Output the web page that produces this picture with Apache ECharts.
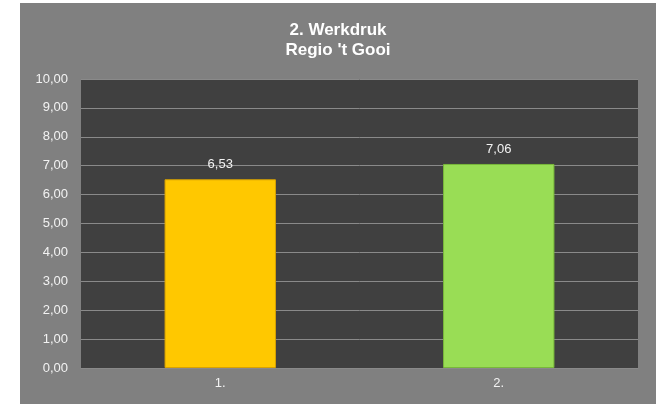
<!DOCTYPE html>
<html>
<head>
<meta charset="utf-8">
<script src="https://cdn.jsdelivr.net/npm/echarts@6/dist/echarts.min.js"></script>
<style>
  html, body { margin: 0; padding: 0; background: #fff; }
  #chart { position: absolute; left: 20px; top: 3px; width: 636px; height: 401px; }
</style>
</head>
<body>
<div id="chart"></div>
<script>
var categories = ['1.', '2.'];
var values = [6.53, 7.06];
var barColors = ['#ffc800', '#99dd55'];
var barBorders = ['#d9a200', '#78b83a'];

var myChart = echarts.init(document.getElementById('chart'));

function fmt(v) {
    return v.toFixed(2).replace('.', ',');
}

var option = {
    backgroundColor: '#808080',
    animation: false,
    title: {
        text: '2. Werkdruk\nRegio \'t Gooi',
        left: 'center',
        top: 12,
        textStyle: {
            color: '#ffffff',
            fontFamily: 'Liberation Sans',
            fontWeight: 'bold',
            fontSize: 17,
            lineHeight: 20
        }
    },
    grid: {
        left: 61,
        right: 18,
        top: 76,
        bottom: 36,
        show: true,
        backgroundColor: '#404040',
        borderWidth: 0
    },
    xAxis: {
        type: 'category',
        data: categories,
        axisLine: { show: true, lineStyle: { color: '#8a8a8a' } },
        axisTick: { show: false },
        axisLabel: {
            color: '#f2f2f2',
            fontFamily: 'Liberation Sans',
            fontSize: 13,
            margin: 9
        }
    },
    yAxis: {
        type: 'value',
        min: 0,
        max: 10,
        interval: 1,
        axisLine: { show: false },
        axisTick: { show: false },
        splitLine: { lineStyle: { color: '#8a8a8a', width: 1 } },
        axisLabel: {
            color: '#f2f2f2',
            fontFamily: 'Liberation Sans',
            fontSize: 13,
            margin: 13,
            formatter: function (v) { return fmt(v); }
        }
    },
    series: [
        {
            type: 'bar',
            barWidth: '40%',
            data: values.map(function (v, i) {
                return {
                    value: v,
                    itemStyle: {
                        color: barColors[i],
                        borderColor: barBorders[i],
                        borderWidth: 1
                    }
                };
            }),
            label: {
                show: true,
                position: 'top',
                distance: 8,
                color: '#f2f2f2',
                fontFamily: 'Liberation Sans',
                fontSize: 13,
                formatter: function (p) { return fmt(p.value); }
            }
        }
    ]
};

option && myChart.setOption(option);
</script>
</body>
</html>
